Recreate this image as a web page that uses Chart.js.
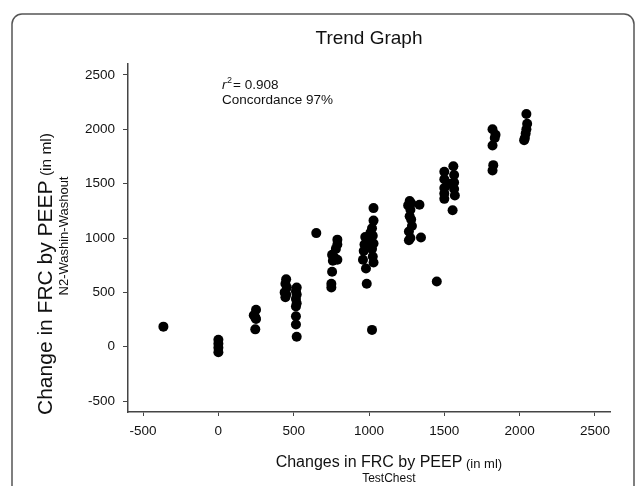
<!DOCTYPE html>
<html>
<head>
<meta charset="utf-8">
<script src="https://cdn.jsdelivr.net/npm/chart.js@4.4.1/dist/chart.umd.min.js"></script>
<style>
  body { margin: 0; background: #fff; }
  canvas { display: block; }
</style>
</head>
<body>
<canvas id="trend" width="636" height="486"></canvas>
<script>
// TestChest (x) vs N2-Washin-Washout (y), change in FRC by PEEP, ml
var testChest = [
  -365,
  0, 0, 0, 0,
  250, 235, 245, 250, 245,
  450, 445, 455, 440, 450, 445,
  520, 515, 520, 515, 520, 515, 515, 515, 520,
  650,
  790, 790, 780, 755, 770, 790, 760, 755, 750, 750,
  1030, 1030, 1020, 1010, 975, 1025, 1000, 970, 1030, 965, 1020, 1025, 960, 1030, 980, 985, 1020,
  1270, 1280, 1260, 1335, 1275, 1270, 1280, 1285, 1265, 1275, 1265, 1345,
  1450,
  1560, 1500, 1565, 1500, 1565, 1530, 1500, 1565, 1500, 1570, 1500, 1555,
  1820, 1840, 1835, 1820, 1825, 1820,
  2045, 2050, 2045, 2040, 2035, 2030
];
var washout = [
  185,
  65, 28, -9, -50,
  340, 290, 270, 255, 160,
  620, 580, 545, 500, 480, 455,
  545, 510, 480, 440, 400, 370, 280, 205, 92,
  1045,
  985, 940, 900, 845, 820, 800, 790, 690, 580, 545,
  1275, 1160, 1090, 1050, 1010, 1020, 980, 940, 950, 880, 900, 830, 800, 775, 720, 580, 155,
  1340, 1320, 1300, 1305, 1260, 1200, 1170, 1110, 1060, 1000, 980, 1005,
  600,
  1660, 1610, 1580, 1540, 1510, 1500, 1460, 1450, 1410, 1390, 1360, 1255,
  2000, 1950, 1920, 1850, 1670, 1620,
  2140, 2050, 2000, 1960, 1920, 1900
];
var xTicks = [-500, 0, 500, 1000, 1500, 2000, 2500];
var yTicks = [-500, 0, 500, 1000, 1500, 2000, 2500];

var FONT = '"Liberation Sans", Arial, sans-serif';

var points = testChest.map(function (x, i) { return { x: x, y: washout[i] }; });

// frame + titles + annotation, drawn by hand (mixed font sizes)
var decor = {
  id: 'decor',
  beforeDraw: function (chart) {
    var c = chart.ctx;
    c.save();
    c.strokeStyle = '#555';
    c.lineWidth = 1.5;
    c.beginPath();
    c.roundRect(12, 14, 622, 600, 10);
    c.stroke();
    c.restore();
  },
  afterDraw: function (chart) {
    var c = chart.ctx;
    var a = chart.chartArea;
    var mid = (a.left + a.right) / 2;
    c.save();
    c.fillStyle = '#111';
    c.textBaseline = 'middle';

    c.textAlign = 'center';
    c.font = '19px ' + FONT;
    c.fillText('Trend Graph', mid, 39);

    // annotation
    c.textAlign = 'left';
    c.textBaseline = 'alphabetic';
    c.font = 'italic 13.5px ' + FONT;
    c.fillText('r', 222, 89);
    c.font = '9px ' + FONT;
    c.fillText('2', 227, 83);
    c.font = '13.5px ' + FONT;
    c.fillText('= 0.908', 233, 89);
    c.fillText('Concordance 97%', 222, 104);

    // x title
    c.textBaseline = 'middle';
    c.font = '16px ' + FONT;
    var main = 'Changes in FRC by PEEP';
    var w1 = c.measureText(main).width;
    c.textAlign = 'left';
    c.fillText(main, mid - w1 / 2, 463);
    c.font = '13px ' + FONT;
    c.fillText(' (in ml)', mid + w1 / 2, 464);
    var w2 = c.measureText(' (in ml)').width;
    c.textAlign = 'center';
    c.font = '12px ' + FONT;
    c.fillText('TestChest', mid + w2 / 2, 479);

    // y title
    c.translate(46, 415);
    c.rotate(-Math.PI / 2);
    c.textAlign = 'left';
    c.font = '21px ' + FONT;
    var ym = 'Change in FRC by PEEP';
    c.fillText(ym, 0, 0);
    var yw = c.measureText(ym).width;
    c.font = '15.5px ' + FONT;
    c.fillText(' (in ml)', yw, 1);
    c.restore();

    c.save();
    c.fillStyle = '#111';
    c.translate(64, 236);
    c.rotate(-Math.PI / 2);
    c.textAlign = 'center';
    c.textBaseline = 'middle';
    c.font = '13px ' + FONT;
    c.fillText('N2-Washin-Washout', 0, 0);
    c.restore();
  }
};

function plain(v) { return String(v); }

new Chart(document.getElementById('trend').getContext('2d'), {
  type: 'scatter',
  data: {
    datasets: [{
      label: 'TestChest vs N2-Washin-Washout',
      data: points,
      backgroundColor: '#000',
      borderWidth: 0,
      pointRadius: 5,
      pointHoverRadius: 5
    }]
  },
  options: {
    responsive: false,
    animation: false,
    layout: { padding: { top: 64, right: 26, left: 0, bottom: 0 } },
    plugins: {
      legend: { display: false },
      tooltip: { enabled: false }
    },
    scales: {
      x: {
        type: 'linear',
        min: -600,
        max: 2600,
        afterBuildTicks: function (s) { s.ticks = xTicks.map(function (v) { return { value: v }; }); },
        afterFit: function (s) { s.height = 74; },
        ticks: { color: '#111', font: { family: FONT, size: 13.5 }, padding: 7, maxRotation: 0, callback: plain },
        grid: { drawOnChartArea: false, tickLength: 4, color: '#444', lineWidth: 1 },
        border: { color: '#444', width: 1.5 }
      },
      y: {
        type: 'linear',
        min: -600,
        max: 2600,
        afterBuildTicks: function (s) { s.ticks = yTicks.map(function (v) { return { value: v }; }); },
        afterFit: function (s) { s.width = 128; },
        ticks: { color: '#111', font: { family: FONT, size: 13.5 }, padding: 8, callback: plain },
        grid: { drawOnChartArea: false, tickLength: 5, color: '#444', lineWidth: 1 },
        border: { color: '#444', width: 1.5 }
      }
    }
  },
  plugins: [decor]
});
</script>
</body>
</html>
